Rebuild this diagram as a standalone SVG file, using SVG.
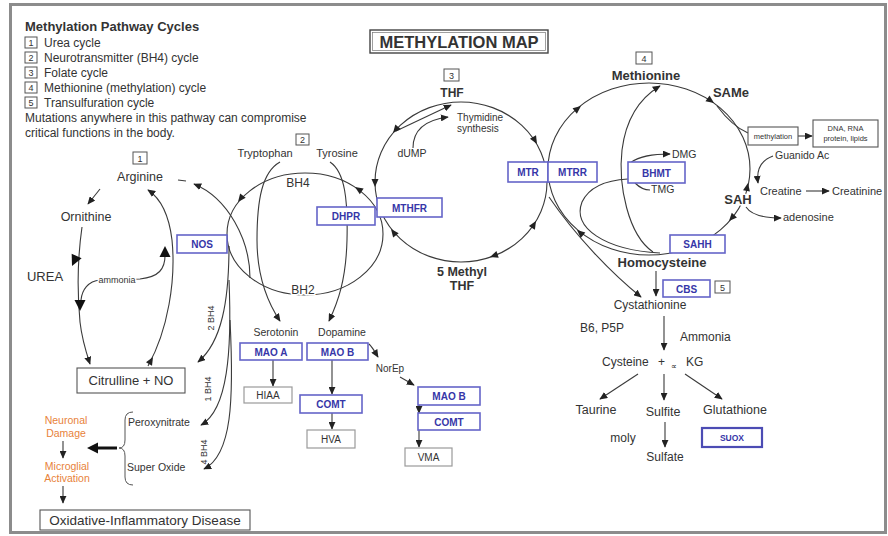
<svg xmlns="http://www.w3.org/2000/svg" xmlns:xlink="http://www.w3.org/1999/xlink" width="888" height="536" viewBox="0 0 888 536">
<style>
.t{font-family:"Liberation Sans",Arial,sans-serif;fill:#333}
.b{font-weight:bold}
.m{text-anchor:middle}
.ln{fill:none;stroke:#3a3a3a;stroke-width:1.1}
.ar{marker-end:url(#m)}
.enz rect{fill:#fff;stroke:#6464c8;stroke-width:1.6}
.enz text{font-family:"Liberation Sans",Arial,sans-serif;fill:#3636a8;font-weight:bold;font-size:10px;text-anchor:middle}
.gb rect{fill:#fff;stroke:#9a9a9a;stroke-width:1.2}
.bx rect{fill:#fff;stroke:#555;stroke-width:1.1}
.nb rect{fill:#fff;stroke:#555;stroke-width:1}
.nb text{font-family:"Liberation Sans",Arial,sans-serif;fill:#333;font-size:9px;text-anchor:middle}
.halo{paint-order:stroke;stroke:#fff;stroke-width:3;stroke-linejoin:round}
.or{fill:#e8823a}
</style>
<defs>
<marker id="m" viewBox="0 0 10 10" refX="9" refY="5" markerWidth="8" markerHeight="7" markerUnits="userSpaceOnUse" preserveAspectRatio="none" orient="auto"><path d="M0,0 L10,5 L0,10 Z" fill="#222"/></marker>
<path id="ah" d="M0,0 L-8,-3.5 L-8,3.5 Z" fill="#222"/>
<path id="ahL" d="M0,0 L-11,-5.5 L-11,5.5 Z" fill="#111"/>
</defs>
<rect x="0" y="0" width="888" height="536" fill="#fff"/>
<rect x="10.5" y="4.5" width="875" height="528" fill="none" stroke="#8c8c8c" stroke-width="3"/>

<g id="legend">
<text x="25" y="31" class="t b" font-size="13">Methylation Pathway Cycles</text>
<g class="nb">
<rect x="25" y="37" width="12" height="11"/><text x="31" y="46">1</text>
<rect x="25" y="52" width="12" height="11"/><text x="31" y="61">2</text>
<rect x="25" y="67" width="12" height="11"/><text x="31" y="76">3</text>
<rect x="25" y="82" width="12" height="11"/><text x="31" y="91">4</text>
<rect x="25" y="97" width="12" height="11"/><text x="31" y="106">5</text>
</g>
<text x="44" y="47" class="t" font-size="12">Urea cycle</text>
<text x="44" y="62" class="t" font-size="12">Neurotransmitter (BH4) cycle</text>
<text x="44" y="77" class="t" font-size="12">Folate cycle</text>
<text x="44" y="92" class="t" font-size="12">Methionine (methylation) cycle</text>
<text x="44" y="107" class="t" font-size="12">Transulfuration cycle</text>
<text x="25" y="122" class="t" font-size="12">Mutations anywhere in this pathway can compromise</text>
<text x="25" y="137" class="t" font-size="12">critical functions in the body.</text>
</g>

<g id="title">
<rect x="370" y="30" width="178" height="23" fill="#fff" stroke="#444" stroke-width="1.4"/>
<rect x="372.5" y="32.5" width="173" height="18" fill="none" stroke="#777" stroke-width="0.7"/>
<text x="459" y="47.5" class="t b m" font-size="16.5">METHYLATION MAP</text>
</g>

<g id="connectors">
<!-- cycles -->
<ellipse class="ln" cx="305" cy="234" rx="78" ry="61"/>
<ellipse class="ln" cx="461" cy="182" rx="86" ry="80"/>
<ellipse class="ln" cx="649" cy="169" rx="101" ry="86"/>
<!-- urea cycle -->
<path class="ln ar" d="M100,189 L88,204"/>
<path class="ln ar" d="M82,227 C78,255 77,290 80,322 C82,340 86,352 90,364"/>
<path class="ln" d="M165,252 C166,270 158,277 140,279 L100,280 C88,281 82,290 81,300"/>
<path class="ln ar" d="M148,366 C168,330 176,280 172,240 C169,215 160,198 148,190"/>
<path class="ln" d="M178,180 L186,181"/>
<path class="ln ar" d="M250,278 C250,240 228,198 194,184"/>
<path class="ln ar" d="M229,246 C229,300 222,342 198,362"/>
<path class="ln ar" d="M229,280 C232,350 228,410 201,425"/>
<path class="ln ar" d="M230,320 C234,400 232,455 204,469"/>
<path d="M133,412 Q125,412 125,420 L125,440 Q125,448 119,448 Q125,448 125,456 L125,477 Q125,485 133,485" fill="none" stroke="#555" stroke-width="1"/>
<path d="M117,448 L96,448" stroke="#111" stroke-width="3"/>
<path class="ln ar" d="M63,441 L63,458"/>
<path class="ln ar" d="M63,486 L63,503"/>
<!-- BH4 cycle -->
<path class="ln ar" d="M280,162 C262,172 257,200 257,240 C257,275 266,300 280,321"/>
<path class="ln ar" d="M330,162 C345,172 348,200 347,240 C346,280 338,302 329,321"/>
<path class="ln ar" d="M273,360 L273,386"/>
<path class="ln ar" d="M332,360 L332,394"/>
<path class="ln ar" d="M332,413 L332,429"/>
<path class="ln ar" d="M369,344 C373,348 375,352 378,357"/>
<path class="ln ar" d="M400,377 L414,385"/>
<path class="ln ar" d="M419,405 L419,413"/>
<path class="ln ar" d="M419,430 L419,447"/>
<!-- folate cycle -->
<path class="ln ar" d="M396,131 C415,122 432,114 451,105"/>
<path class="ln ar" d="M413,148 C413,130 425,120 448,117"/>
<!-- methionine cycle -->
<path class="ln" d="M717,106 C726,118 736,128 748,133"/>
<path class="ln ar" d="M798,136 L812,136"/>
<path class="ln ar" d="M773,156 C762,160 756,168 758,183"/>
<path class="ln ar" d="M806,191 L829,191"/>
<path class="ln ar" d="M746,207 C752,216 765,218 781,218"/>
<path class="ln ar" d="M653,252 C628,235 618,185 622,150 C626,118 640,98 660,86"/>
<path class="ln" d="M660,253 C605,250 572,228 582,202 C590,185 610,180 628,179"/>
<path class="ln ar" d="M630,163 C640,156 652,154 670,154"/>
<path class="ln" d="M635,183 C640,188 645,190 650,190"/>
<!-- transsulfuration -->
<path class="ln ar" d="M549,197 C575,235 610,272 641,297"/>
<path class="ln ar" d="M656,271 L656,296"/>
<path class="ln ar" d="M664,316 L664,350"/>
<path class="ln ar" d="M638,374 L600,399"/>
<path class="ln ar" d="M664,374 L664,400"/>
<path class="ln ar" d="M685,374 L722,399"/>
<path class="ln ar" d="M665,422 L665,447"/>
<!-- arrowheads on curves -->
<use xlink:href="#ahL" transform="translate(72,266) rotate(115)"/>
<use xlink:href="#ahL" transform="translate(80,311) rotate(90)"/>
<use xlink:href="#ahL" transform="translate(165,246) rotate(-90)"/>
<use xlink:href="#ah" transform="translate(153,357) rotate(-60)"/>
<use xlink:href="#ahL" transform="translate(87,448) rotate(180)"/>
<use xlink:href="#ah" transform="translate(238,202) rotate(128)"/>
<use xlink:href="#ah" transform="translate(355,187) rotate(-147)"/>
<use xlink:href="#ah" transform="translate(537,144) rotate(60)"/>
<use xlink:href="#ah" transform="translate(536,221) rotate(-59)"/>
<use xlink:href="#ah" transform="translate(490,257) rotate(161)"/>
<use xlink:href="#ah" transform="translate(391,229) rotate(-128)"/>
<use xlink:href="#ah" transform="translate(375,187) rotate(90)"/>
<use xlink:href="#ah" transform="translate(393,133) rotate(129)"/>
<use xlink:href="#ah" transform="translate(581,106) rotate(-38)"/>
<use xlink:href="#ah" transform="translate(714,103) rotate(36)"/>
<use xlink:href="#ah" transform="translate(748,183) rotate(-79)"/>
<use xlink:href="#ah" transform="translate(729,221) rotate(132)"/>
<use xlink:href="#ah" transform="translate(577,230) rotate(-139)"/>
<text class="t m" font-size="9" transform="translate(214,318) rotate(-90)">2 BH4</text>
<text class="t m" font-size="9" transform="translate(211,389) rotate(-90)">1 BH4</text>
<text class="t m" font-size="9" transform="translate(207,452) rotate(-90)">4 BH4</text>
<text x="117" y="283" class="t m halo" font-size="9">ammonia</text>
</g>

<g id="cycle1-label" class="nb"><rect x="133" y="152" width="14" height="12"/><text x="140" y="161.5">1</text></g>
<g id="cycle2-label" class="nb"><rect x="296" y="134" width="13" height="11"/><text x="302.5" y="143">2</text></g>
<g id="cycle3-label" class="nb"><rect x="444" y="69" width="15" height="12"/><text x="451.5" y="78.5">3</text></g>
<g id="cycle4-label" class="nb"><rect x="636" y="52" width="16" height="12"/><text x="644" y="61.5">4</text></g>
<g id="cycle5-label" class="nb"><rect x="715" y="281" width="15" height="12"/><text x="722.5" y="290.5">5</text></g>

<g id="arginine"><text x="140" y="181" class="t m" font-size="12.5">Arginine</text></g>
<g id="ornithine"><text x="86" y="221" class="t m" font-size="12.5">Ornithine</text></g>
<g id="urea"><text x="45" y="281" class="t m" font-size="13">UREA</text></g>
<g id="nos" class="enz"><rect x="177" y="235" width="50" height="18"/><text x="202" y="248">NOS</text></g>
<g id="citrulline" class="bx"><rect x="77" y="368" width="108" height="25"/><text x="131" y="385" class="t m" font-size="13">Citrulline + NO</text></g>
<g id="peroxynitrate"><text x="128" y="426" class="t" font-size="10.5">Peroxynitrate</text></g>
<g id="superoxide"><text x="127" y="471" class="t" font-size="10.5">Super Oxide</text></g>
<g id="neuronal"><text x="66" y="424" class="t m or" font-size="10.5">Neuronal</text><text x="66" y="437" class="t m or" font-size="10.5">Damage</text></g>
<g id="microglial"><text x="67" y="470" class="t m or" font-size="10.5">Microglial</text><text x="67" y="482" class="t m or" font-size="10.5">Activation</text></g>
<g id="oxidative" class="bx"><rect x="40" y="510" width="210" height="20"/><text x="145" y="525" class="t m" font-size="13.5">Oxidative-Inflammatory Disease</text></g>

<g id="tryptophan"><text x="265" y="157" class="t m" font-size="11">Tryptophan</text></g>
<g id="tyrosine"><text x="337" y="157" class="t m" font-size="11">Tyrosine</text></g>
<g id="bh4"><text x="298" y="187" class="t m" font-size="12">BH4</text></g>
<g id="bh2"><text x="303" y="294" class="t m halo" font-size="12">BH2</text></g>
<g id="dhpr" class="enz"><rect x="317" y="207" width="58" height="18"/><text x="346" y="220">DHPR</text></g>
<g id="serotonin"><text x="276" y="336" class="t m" font-size="10.5">Serotonin</text></g>
<g id="dopamine"><text x="342" y="336" class="t m" font-size="10.5">Dopamine</text></g>
<g id="maoa" class="enz"><rect x="240" y="343" width="62" height="17"/><text x="271" y="355.5">MAO A</text></g>
<g id="maob" class="enz"><rect x="307" y="343" width="61" height="17"/><text x="337.5" y="355.5">MAO B</text></g>
<g id="hiaa" class="gb"><rect x="244" y="387" width="48" height="16"/><text x="268" y="399" class="t m" font-size="10">HIAA</text></g>
<g id="comt" class="enz"><rect x="300" y="395" width="62" height="18"/><text x="331" y="408">COMT</text></g>
<g id="hva" class="gb"><rect x="307" y="430" width="48" height="18"/><text x="331" y="443" class="t m" font-size="10">HVA</text></g>
<g id="norep"><text x="390" y="372" class="t m" font-size="10">NorEp</text></g>
<g id="maob2" class="enz"><rect x="418" y="387" width="62" height="18"/><text x="449" y="400">MAO B</text></g>
<g id="comt2" class="enz"><rect x="418" y="413" width="62" height="17"/><text x="449" y="425.5">COMT</text></g>
<g id="vma" class="gb"><rect x="405" y="448" width="47" height="18"/><text x="428.5" y="461" class="t m" font-size="10">VMA</text></g>

<g id="thf"><text x="452" y="97" class="t b m" font-size="12">THF</text></g>
<g id="dump"><text x="412" y="157" class="t m" font-size="10.5">dUMP</text></g>
<g id="thymidine"><text x="457" y="121" class="t" font-size="10">Thymidine</text><text x="457" y="132" class="t" font-size="10">synthesis</text></g>
<g id="mthfr" class="enz"><rect x="377" y="198" width="65" height="19"/><text x="409.5" y="211.5">MTHFR</text></g>
<g id="mtr" class="enz"><rect x="508" y="162" width="40" height="20"/><text x="528" y="176">MTR</text></g>
<g id="mtrr" class="enz"><rect x="548" y="162" width="49" height="20"/><text x="572.5" y="176">MTRR</text></g>
<g id="methylthf"><text x="462" y="276" class="t b m" font-size="12.5">5 Methyl</text><text x="462" y="290" class="t b m" font-size="12.5">THF</text></g>

<g id="methionine"><text x="646" y="80" class="t b m halo" font-size="13">Methionine</text></g>
<g id="same"><text x="731" y="97" class="t b m halo" font-size="13">SAMe</text></g>
<g id="methylation" class="bx"><rect x="748" y="127" width="50" height="18"/><text x="773" y="139" class="t m" font-size="7.5">methylation</text></g>
<g id="dna" class="bx"><rect x="813" y="120" width="65" height="27"/><text x="845.5" y="131" class="t m" font-size="7.5">DNA, RNA</text><text x="845.5" y="141" class="t m" font-size="7.5">protein, lipids</text></g>
<g id="guanido"><text x="775" y="159" class="t" font-size="10.5">Guanido Ac</text></g>
<g id="creatine"><text x="760" y="195" class="t" font-size="11">Creatine</text></g>
<g id="creatinine"><text x="832" y="195" class="t" font-size="11">Creatinine</text></g>
<g id="sah"><text x="738" y="204" class="t b m halo" font-size="13">SAH</text></g>
<g id="adenosine"><text x="783" y="221" class="t" font-size="11">adenosine</text></g>
<g id="bhmt" class="enz"><rect x="628" y="162" width="57" height="21"/><text x="656.5" y="176.5">BHMT</text></g>
<g id="dmg"><text x="672" y="157.5" class="t" font-size="10.5">DMG</text></g>
<g id="tmg"><text x="651" y="193" class="t" font-size="10.5">TMG</text></g>
<g id="sahh" class="enz"><rect x="670" y="235" width="55" height="18"/><text x="697.5" y="248">SAHH</text></g>
<g id="homocysteine"><text x="662" y="267" class="t b m halo" font-size="13">Homocysteine</text></g>
<g id="cbs" class="enz"><rect x="663" y="280" width="47" height="17"/><text x="686.5" y="292.5">CBS</text></g>
<g id="cystathionine"><text x="650" y="309" class="t m" font-size="12">Cystathionine</text></g>
<g id="b6"><text x="580" y="332" class="t" font-size="12">B6, P5P</text></g>
<g id="ammonia2"><text x="680" y="341" class="t" font-size="12">Ammonia</text></g>
<g id="cysteine"><text x="602" y="366" class="t" font-size="12">Cysteine</text><text x="658" y="366" class="t" font-size="12">+</text><text x="671" y="369" class="t" font-size="8">∝</text><text x="686" y="366" class="t" font-size="12">KG</text></g>
<g id="taurine"><text x="596" y="414" class="t m" font-size="12.5">Taurine</text></g>
<g id="sulfite"><text x="663" y="416" class="t m" font-size="12.5">Sulfite</text></g>
<g id="glutathione"><text x="735" y="414" class="t m" font-size="12.5">Glutathione</text></g>
<g id="moly"><text x="623" y="442" class="t m" font-size="12">moly</text></g>
<g id="suox"><rect x="702" y="428" width="60" height="19" fill="#fff" stroke="#4c4cb4" stroke-width="2.2"/><text x="732" y="441" class="t b m" font-size="8.5" fill="#3636a8" style="fill:#3636a8">SUOX</text></g>
<g id="sulfate"><text x="665" y="461" class="t m" font-size="12">Sulfate</text></g>
</svg>
